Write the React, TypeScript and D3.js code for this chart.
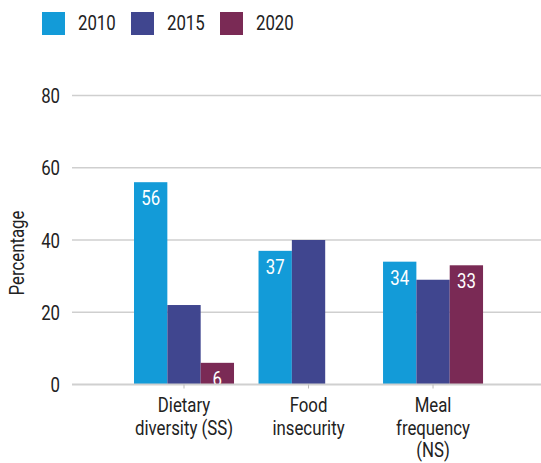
import React from "react";
import * as d3 from "d3";

const categories = ["Dietary diversity (SS)", "Food insecurity", "Meal frequency (NS)"];
const categoryLines = [["Dietary", "diversity (SS)"], ["Food", "insecurity"], ["Meal", "frequency", "(NS)"]];
const seriesNames = ["2010", "2015", "2020"];
const values2010: (number | null)[] = [56, 37, 34];
const values2015: (number | null)[] = [22, 40, 29];
const values2020: (number | null)[] = [6, null, 33];
const showLabel2010 = [true, true, true];
const showLabel2015 = [false, false, false];
const showLabel2020 = [true, false, true];
const yTicks = [0, 20, 40, 60, 80];
const colors = ["#139bd8", "#40468f", "#7a2a55"];

const FONT = "Roboto, 'Liberation Sans', sans-serif";
const SX = 0.8;

function T(props: { x: number; y: number; anchor?: string; size?: number; fill?: string; rotate?: number; children: React.ReactNode }) {
  const { x, y, anchor = "start", size = 21, fill = "#222", rotate = 0, children } = props;
  return (
    <text
      transform={`translate(${x},${y}) rotate(${rotate}) scale(${SX},1)`}
      textAnchor={anchor}
      fontSize={size}
      fill={fill}
    >
      {children}
    </text>
  );
}

export default function App() {
  const W = 541, H = 463;
  const series = [values2010, values2015, values2020];
  const labels = [showLabel2010, showLabel2015, showLabel2020];
  const y = d3.scaleLinear().domain([0, 80]).range([384.5, 95.5]);
  const x0 = d3.scaleBand<string>().domain(categories).range([121.55, 495.5]).paddingInner(0.1968).paddingOuter(0.1);
  const x1 = d3.scaleBand<string>().domain(seriesNames).range([0, x0.bandwidth()]).padding(0);
  const gridX0 = 72, gridX1 = 541;

  return (
    <svg width={W} height={H} style={{ position: "absolute", left: 0, top: 0, background: "#fff" }} fontFamily={FONT}>
      {/* legend */}
      {seriesNames.map((s, i) => {
        const lx = [42, 131, 220][i];
        return (
          <g key={s}>
            <rect x={lx} y={12} width={23} height={23} fill={colors[i]} />
            <T x={lx + 36} y={30}>{s}</T>
          </g>
        );
      })}
      {/* grid */}
      {yTicks.filter((t) => t !== 0).map((t) => (
        <line key={t} x1={gridX0} x2={gridX1} y1={y(t)} y2={y(t)} stroke="#cfcfcf" strokeWidth={1.5} />
      ))}
      {/* bars */}
      {categories.map((c, ci) => (
        <g key={c} transform={`translate(${x0(c)},0)`}>
          {seriesNames.map((s, si) => {
            const v = series[si][ci];
            if (v == null) return null;
            const bx = x1(s)!;
            const bw = x1.bandwidth();
            return (
              <g key={s}>
                <rect x={bx} y={y(v)} width={bw} height={y(0) - y(v)} fill={colors[si]} />
                {labels[si][ci] && (
                  <T x={bx + bw / 2} y={y(v) + 23} anchor="middle" fill="#fff">{v}</T>
                )}
              </g>
            );
          })}
        </g>
      ))}
      {/* below-axis cover for clipped labels */}
      <rect x={gridX0} y={y(0)} width={W - gridX0} height={H - y(0)} fill="#fff" />
      {/* y tick labels */}
      {yTicks.map((t) => (
        <T key={t} x={60} y={y(t) + 7.5} anchor="end">{t}</T>
      ))}
      <T x={24} y={253} anchor="middle" rotate={-90} size={21}>Percentage</T>
      {/* axis */}
      <line x1={gridX0} x2={gridX1} y1={y(0)} y2={y(0)} stroke="#d0d0d0" strokeWidth={2} />
      {categories.map((c, ci) => {
        const cx = x0(c)! + x0.bandwidth() / 2;
        return (
          <g key={c}>
            <line x1={cx} x2={cx} y1={y(0)} y2={y(0) + 4} stroke="#bbb" strokeWidth={1} />
            {categoryLines[ci].map((ln, li) => (
              <T key={li} x={cx} y={412 + li * 22.5} anchor="middle">{ln}</T>
            ))}
          </g>
        );
      })}
    </svg>
  );
}
